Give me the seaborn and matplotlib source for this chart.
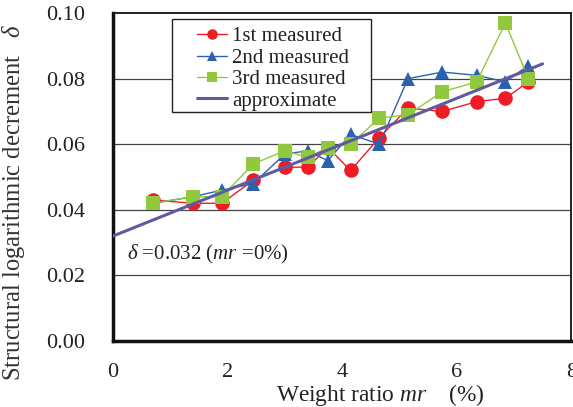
import matplotlib
matplotlib.use("Agg")
import matplotlib.pyplot as plt
from matplotlib.patches import Rectangle
import seaborn as sns
import numpy as np
import pandas as pd

# ---- data ----
weight_ratio = [0.7, 1.4, 1.9, 2.45, 3.0, 3.4, 3.75, 4.15, 4.65, 5.15, 5.75, 6.35, 6.85, 7.25]
first_measured = [0.043, 0.042, 0.042, 0.049, 0.053, 0.053, 0.059, 0.052, 0.062, 0.071, 0.070, 0.073, 0.074, 0.079]
second_measured = [0.042, 0.044, 0.046, 0.048, 0.057, 0.058, 0.055, 0.063, 0.060, 0.080, 0.082, 0.081, 0.079, 0.084]
third_measured = [0.042, 0.044, 0.044, 0.054, 0.058, 0.056, 0.059, 0.060, 0.068, 0.069, 0.076, 0.079, 0.097, 0.080]
approx_x = [0.0, 7.5]
approx_y = [0.032, 0.0845]
x_ticks = [0, 2, 4, 6, 8]
y_ticks = [0.00, 0.02, 0.04, 0.06, 0.08, 0.10]
series_names = ["1st measured", "2nd measured", "3rd measured", "approximate"]

sns.set_theme(style="white")
plt.rcParams["font.family"] = ["Liberation Serif", "DejaVu Serif"]
plt.rcParams["mathtext.fontset"] = "custom"
plt.rcParams["mathtext.rm"] = "Liberation Serif"
plt.rcParams["mathtext.it"] = "Liberation Serif:italic"

fig, ax = plt.subplots(figsize=(5.73, 4.07), dpi=100)
fig.subplots_adjust(left=0.197, right=0.997, bottom=0.162, top=0.968)

red = "#EE1C25"
blue = "#2B62B0"
green = "#92C83E"
purple = "#5E5CA0"
txt = "#222222"

# grid lines
for yv in y_ticks[1:-1]:
    ax.axhline(yv, color="#444444", lw=0.9, zorder=0)

df1 = pd.DataFrame({"x": weight_ratio, "y": first_measured})
df2 = pd.DataFrame({"x": weight_ratio, "y": second_measured})
df3 = pd.DataFrame({"x": weight_ratio, "y": third_measured})
dfa = pd.DataFrame({"x": approx_x, "y": approx_y})

sns.lineplot(data=df1, x="x", y="y", ax=ax, color=red, marker="o", markersize=10.5,
             markeredgewidth=0, lw=1.0, label=series_names[0], zorder=3)
sns.lineplot(data=df2, x="x", y="y", ax=ax, color=blue, marker="^", markersize=10.5,
             markeredgewidth=0, lw=1.0, label=series_names[1], zorder=4)
sns.lineplot(data=df3, x="x", y="y", ax=ax, color=green, marker="s", markersize=9.5,
             markeredgewidth=0, lw=1.0, label=series_names[2], zorder=5)
sns.lineplot(data=dfa, x="x", y="y", ax=ax, color=purple, lw=2.2,
             label=series_names[3], zorder=6)

ax.set_xlim(0, 8)
ax.set_ylim(0, 0.10)
ax.set_xticks(x_ticks)
ax.set_xticklabels([str(v) for v in x_ticks])
ax.set_yticks(y_ticks)
ax.set_yticklabels([f"{v:.2f}" for v in y_ticks])
ax.tick_params(axis="x", direction="in", length=6, width=1.2, pad=16, labelsize=16, colors=txt)
ax.tick_params(axis="y", direction="in", length=4, width=1.2, pad=20, labelsize=16, colors=txt)

for side in ["left", "bottom"]:
    ax.spines[side].set_linewidth(2.5)
    ax.spines[side].set_color("#111111")
for side in ["top", "right"]:
    ax.spines[side].set_linewidth(1.3)
    ax.spines[side].set_color("#111111")

ax.set_xlabel(r"Weight ratio $\mathit{mr}$    (%)", fontsize=16.8, color=txt)
ax.xaxis.set_label_coords(0.5836, -0.124)
ax.set_ylabel("Structural logarithmic decrement   $\\mathit{δ}$", fontsize=17.7, color="#333333")
ax.yaxis.set_label_coords(-0.187, 0.425)

ax.text(0.25, 0.0265, r"$\mathit{δ}$ =0.032 ($\mathit{mr}$ =0%)", fontsize=15,
        va="center", ha="left", color=txt)

# legend box
box = Rectangle((0.1294, 0.699), 0.4328, 0.282, transform=ax.transAxes,
                facecolor="white", edgecolor="#222222", lw=1.0, zorder=7)
ax.add_patch(box)
leg = ax.legend(loc="upper left", bbox_to_anchor=(0.1825, 0.958), fontsize=15,
                frameon=False, borderpad=0, labelspacing=0.09, handlelength=1.45,
                handletextpad=0.25, borderaxespad=0, markerscale=0.72)
leg.set_zorder(8)
for t in leg.get_texts():
    t.set_color(txt)

fig.savefig("out.png", dpi=100)
